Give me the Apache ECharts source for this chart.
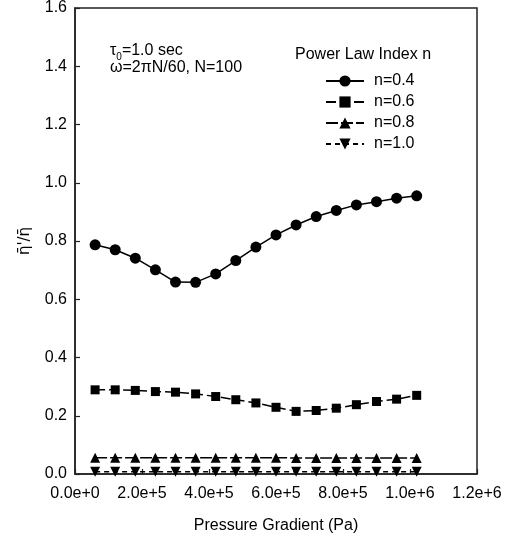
<!DOCTYPE html>
<html>
<head>
<meta charset="utf-8">
<script src="https://cdn.jsdelivr.net/npm/echarts@6/dist/echarts.min.js"></script>
<style>
html,body{margin:0;padding:0;background:#fff;}
#chart{width:516px;height:541px;}
</style>
</head>
<body>
<div id="chart"></div>
<script>
// ---- data ----
var pressure = [60000,120000,180000,240000,300000,360000,420000,480000,540000,600000,660000,720000,780000,840000,900000,960000,1020000];
var n04 = [0.787,0.770,0.741,0.701,0.659,0.658,0.687,0.733,0.779,0.821,0.855,0.884,0.905,0.924,0.935,0.947,0.955];
var n06 = [0.289,0.289,0.287,0.283,0.281,0.275,0.266,0.255,0.244,0.229,0.215,0.218,0.226,0.238,0.249,0.257,0.270];
var n08 = [0.056,0.056,0.056,0.056,0.056,0.056,0.056,0.056,0.056,0.056,0.055,0.055,0.055,0.055,0.055,0.055,0.055];
var n10 = [0.008,0.008,0.008,0.008,0.008,0.008,0.008,0.008,0.008,0.008,0.008,0.008,0.008,0.008,0.008,0.008,0.008];
var seriesNames = ['n=0.4','n=0.6','n=0.8','n=1.0'];
var xTickLabels = ['0.0e+0','2.0e+5','4.0e+5','6.0e+5','8.0e+5','1.0e+6','1.2e+6'];
var yTickLabels = ['0.0','0.2','0.4','0.6','0.8','1.0','1.2','1.4','1.6'];

function pairs(ys){ return pressure.map(function(x,i){ return [x, ys[i]]; }); }

var FONT = '"Liberation Sans", Arial, Helvetica, sans-serif';
var INK = '#000';

var chart = echarts.init(document.getElementById('chart'), null, {renderer:'canvas'});

function mkSeries(name, ys, symbol, size, dash, rot){
  return {
    name: name, type: 'line', data: pairs(ys),
    symbol: symbol, symbolSize: size, symbolRotate: rot || 0,
    itemStyle: {color: INK, borderWidth: 0},
    lineStyle: {color: INK, width: 1.5, type: dash},
    emphasis: {disabled: true}, animation: false
  };
}

var option = {
  animation: false,
  backgroundColor: '#fff',
  grid: {left: 75, right: 39, top: 8, bottom: 67, show: true, borderColor: '#222', borderWidth: 1.5, backgroundColor: 'transparent'},
  xAxis: {
    type: 'value', min: 0, max: 1200000, interval: 200000,
    name: 'Pressure Gradient (Pa)', nameLocation: 'middle', nameGap: 44,
    nameTextStyle: {fontFamily: FONT, fontSize: 16, color: INK},
    axisLine: {show: true, onZero: false, lineStyle: {color: '#222', width: 1.5}},
    axisTick: {show: true, inside: true, length: 5, lineStyle: {color: '#222', width: 1.2}},
    axisLabel: {margin: 12, fontFamily: FONT, fontSize: 16, color: INK,
      formatter: function(v){ return xTickLabels[Math.round(v/200000)]; }},
    splitLine: {show: false}
  },
  yAxis: {
    type: 'value', min: 0, max: 1.6, interval: 0.2,
    name: "η\u0304'/η\u0304", nameLocation: 'middle', nameGap: 42, nameRotate: 90,
    nameTextStyle: {fontFamily: '"DejaVu Sans", sans-serif', fontSize: 15, color: INK},
    axisLine: {show: true, lineStyle: {color: '#222', width: 1.5}},
    axisTick: {show: true, inside: true, length: 5, lineStyle: {color: '#222', width: 1.2}},
    axisLabel: {margin: 8, fontFamily: FONT, fontSize: 16, color: INK,
      formatter: function(v){ return yTickLabels[Math.round(v/0.2)]; }},
    splitLine: {show: false}
  },
  legend: {
    orient: 'vertical', left: 320, top: 68, itemGap: 5,
    itemWidth: 38, itemHeight: 14,
    data: seriesNames,
    textStyle: {fontFamily: FONT, fontSize: 16, color: INK, padding: [0,0,0,5]},
    selectedMode: false
  },
  graphic: [
    {type: 'text', left: 110, top: 43, style: {
      text: '{a|τ}{s|0}{a|=1.0 sec}',
      rich: {
        a: {fontFamily: FONT, fontSize: 16, fill: INK, lineHeight: 18, verticalAlign: 'bottom'},
        s: {fontFamily: FONT, fontSize: 10, fill: INK, lineHeight: 10, verticalAlign: 'bottom', padding: [0,0,-3,0]}
      }
    }},
    {type: 'text', left: 110, top: 60, style: {text: 'ω=2πN/60, N=100', fontFamily: FONT, fontSize: 16, fill: INK}},
    {type: 'text', left: 295, top: 47, style: {text: 'Power Law Index n', fontFamily: FONT, fontSize: 16, fill: INK}}
  ],
  series: [
    mkSeries(seriesNames[0], n04, 'circle', 11, 'solid'),
    mkSeries(seriesNames[1], n06, 'rect', 9, [10,4]),
    mkSeries(seriesNames[2], n08, 'triangle', 10, [12,3]),
    mkSeries(seriesNames[3], n10, 'triangle', 10, [5,4], 180)
  ]
};
chart.setOption(option);
</script>
</body>
</html>
